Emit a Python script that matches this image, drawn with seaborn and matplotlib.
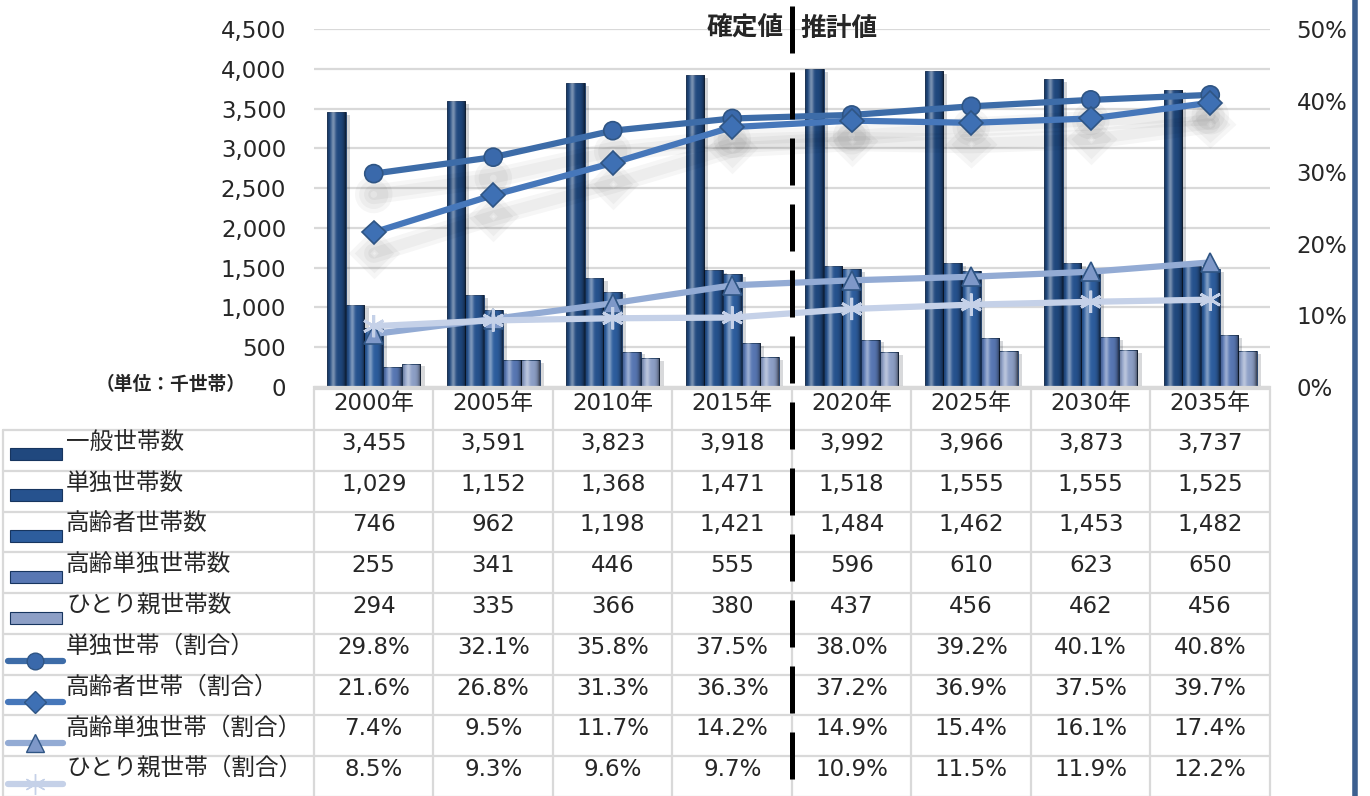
import numpy as np
import pandas as pd
import seaborn as sns
import matplotlib.pyplot as plt
import matplotlib.patheffects as pe
from matplotlib.patches import Rectangle
from matplotlib.lines import Line2D
from matplotlib.ticker import FuncFormatter

years = ['2000年', '2005年', '2010年', '2015年', '2020年', '2025年', '2030年', '2035年']
bar_names = ['一般世帯数', '単独世帯数', '高齢者世帯数', '高齢単独世帯数', 'ひとり親世帯数']
general = [3455, 3591, 3823, 3918, 3992, 3966, 3873, 3737]
single = [1029, 1152, 1368, 1471, 1518, 1555, 1555, 1525]
elderly = [746, 962, 1198, 1421, 1484, 1462, 1453, 1482]
elderly_single = [255, 341, 446, 555, 596, 610, 623, 650]
single_parent = [294, 335, 366, 380, 437, 456, 462, 456]

line_names = ['単独世帯（割合）', '高齢者世帯（割合）', '高齢単独世帯（割合）', 'ひとり親世帯（割合）']
single_rate = [29.8, 32.1, 35.8, 37.5, 38.0, 39.2, 40.1, 40.8]
elderly_rate = [21.6, 26.8, 31.3, 36.3, 37.2, 36.9, 37.5, 39.7]
elderly_single_rate = [7.4, 9.5, 11.7, 14.2, 14.9, 15.4, 16.1, 17.4]
single_parent_rate = [8.5, 9.3, 9.6, 9.7, 10.9, 11.5, 11.9, 12.2]

bar_values = [general, single, elderly, elderly_single, single_parent]
rate_values = [single_rate, elderly_rate, elderly_single_rate, single_parent_rate]

bar_colors = ['#20487e', '#26528e', '#2d5d9d', '#5877b3', '#8d9fc6']
line_colors = ['#3d6ca8', '#4677ba', '#93abd4', '#c5d1e8']
markers = ['o', 'D', '^', (6, 2, 0)]
marker_sizes = [13, 12, 14, 16]
marker_faces = ['#3a69ab', '#3e70b4', '#7e98c8', '#dfe6f3']

sns.set_style('white')
plt.rcParams['font.family'] = ['DejaVu Sans', 'Noto Sans CJK JP']

W, H = 1370, 796
X0, X1, Y0, YT = 314, 1270, 387, 29
cw = (X1 - X0) / len(years)

fig = plt.figure(figsize=(W / 100, H / 100), dpi=100)
ax = fig.add_axes([X0 / W, 1 - Y0 / H, (X1 - X0) / W, (Y0 - YT) / H])

df = pd.DataFrame({
    'year': np.repeat([years], len(bar_names), axis=0).ravel(),
    'series': np.repeat(bar_names, len(years)),
    'value': np.concatenate(bar_values),
})
sns.barplot(data=df, x='year', y='value', hue='series', palette=bar_colors,
            saturation=1, width=0.78, ax=ax, legend=False,
            edgecolor='#17355f', linewidth=0.6)

# bevel-like shading on each bar
t = np.linspace(0, 1, 40)
light = 0.4 * np.exp(-((t - 0.33) / 0.13) ** 2)
dark = 0.4 * (np.abs(t - 0.45) * 2) ** 4
shade = np.zeros((1, 40, 4))
shade[0, :, :3] = (light > dark)[:, None].astype(float)
shade[0, :, 3] = np.maximum(light, dark)
for p in list(ax.patches):
    p.set_path_effects([pe.withSimplePatchShadow(offset=(3, -2), alpha=0.18)])
    im = ax.imshow(shade, extent=(p.get_x(), p.get_x() + p.get_width(), 0, p.get_height()),
                   aspect='auto', interpolation='bilinear', zorder=p.get_zorder() + 0.1)
    im.set_clip_path(p)

ax.set_xlim(-0.5, len(years) - 0.5)
ax.set_ylim(0, 4500)
ax.set_yticks(np.arange(0, 4501, 500))
ax.yaxis.set_major_formatter(FuncFormatter(lambda v, _: f'{v:,.0f}'))
ax.tick_params(axis='y', length=0, pad=20, labelsize=16.5)
ax.set_xticks([])
ax.set_xlabel('')
ax.set_ylabel('')
ax.grid(axis='y', color='#d9d9d9', lw=1.6)
ax.set_axisbelow(True)
for s in ['left', 'right', 'top']:
    ax.spines[s].set_visible(False)
ax.spines['bottom'].set_color('#d9d9d9')
ax.spines['bottom'].set_linewidth(1.6)

# ratio lines on the right axis
ax2 = ax.twinx()
pos = np.arange(len(years))
for k, (vals, c, m, ms, mf) in enumerate(zip(rate_values, line_colors, markers, marker_sizes, marker_faces)):
    shadow = [pe.SimpleLineShadow(offset=(0, -15), shadow_color='k', alpha=0.035, linewidth=w)
              for w in (14, 8)] if k < 2 else []
    sns.lineplot(x=pos, y=np.array(vals) / 100, ax=ax2, color=c, lw=4.5,
                 marker=m, markersize=ms, markerfacecolor=mf,
                 markeredgecolor='#2f5584' if k < 3 else '#c5d1e8',
                 markeredgewidth=1.2 if k < 3 else 2,
                 path_effects=shadow + [pe.Normal()])
ax2.set_ylim(0, 0.5)
ax2.set_yticks(np.arange(0, 0.51, 0.1))
ax2.yaxis.set_major_formatter(FuncFormatter(lambda v, _: f'{v * 100:.0f}%'))
ax2.tick_params(axis='y', length=0, pad=19, labelsize=16.5)
ax2.set_xlabel('')
ax2.set_ylabel('')
for s in ax2.spines.values():
    s.set_visible(False)

# data table drawn in pixel coordinates on an overlay
tab = fig.add_axes([0, 0, 1, 1], zorder=5)
tab.set_xlim(0, W)
tab.set_ylim(H, 0)
tab.axis('off')
tab.patch.set_alpha(0)

grid = '#d9d9d9'
rows = np.linspace(430, 797, 10)
tab.plot([X0, X1], [389, 389], color=grid, lw=1.6)
for y in rows:
    tab.plot([3, X1], [y, y], color=grid, lw=1.6)
tab.plot([3, 3], [rows[0], H], color=grid, lw=1.6)
for k in range(len(years) + 1):
    tab.plot([X0 + k * cw] * 2, [389, H], color=grid, lw=1.6)

for i, yr in enumerate(years):
    tab.text(X0 + (i + 0.5) * cw, 404, yr, ha='center', va='center', fontsize=16.5)

labels = bar_names + line_names
values = [[f'{v:,}' for v in s] for s in bar_values] + [[f'{v:.1f}%' for v in s] for s in rate_values]
for r, (lab, vals) in enumerate(zip(labels, values)):
    yc = (rows[r] + rows[r + 1]) / 2
    tab.text(66, yc - 8, lab, ha='left', va='center', fontsize=17,
             family=['Noto Sans CJK JP'])
    for i, v in enumerate(vals):
        tab.text(X0 + (i + 0.5) * cw, yc - 7, v, ha='center', va='center', fontsize=16.5)
    if r < len(bar_names):
        tab.add_patch(Rectangle((10, yc - 2), 52, 12, facecolor=bar_colors[r],
                                edgecolor='#17355f', lw=0.8))
    else:
        j = r - len(bar_names)
        tab.plot([8, 63], [yc + 7, yc + 7], color=line_colors[j], lw=4.5,
                 solid_capstyle='round')
        tab.plot([35], [yc + 7], marker=markers[j], markersize=marker_sizes[j] - 1,
                 markerfacecolor=marker_faces[j],
                 markeredgecolor='#2f5584' if j < 3 else '#c5d1e8')

# boundary between actual and projected values
tab.plot([X0 + 4 * cw] * 2, [6, 780], color='black', lw=3.6,
         linestyle=(0, (9.4, 3.8)))
tab.text(X0 + 4 * cw - 8, 28, '確定値', ha='right', va='center', fontsize=18.5,
         fontweight='bold', family=['Noto Sans CJK JP'])
tab.text(X0 + 4 * cw + 8, 28, '推計値', ha='left', va='center', fontsize=18.5,
         fontweight='bold', family=['Noto Sans CJK JP'])
tab.text(246, 385, '（単位：千世帯）', ha='right', va='center', fontsize=13.5,
         fontweight='bold', family=['Noto Sans CJK JP'])
fig.add_artist(Line2D([1355 / W] * 2, [0, 1], color='#3c5f8f', lw=4))

fig.savefig('out.png', dpi=100)
